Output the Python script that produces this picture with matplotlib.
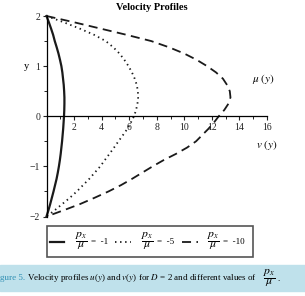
import matplotlib
matplotlib.use("Agg")
import matplotlib.pyplot as plt
from matplotlib.lines import Line2D
from matplotlib.patches import Rectangle
from matplotlib.ticker import MultipleLocator

plt.rcParams['font.family'] = ['Liberation Serif', 'DejaVu Serif']
plt.rcParams['mathtext.fontset'] = 'stix'

# data
y_pts = [2.0, 1.875, 1.75, 1.625, 1.5, 1.375, 1.25, 1.125, 1.0, 0.875, 0.75,
         0.625, 0.5, 0.375, 0.25, 0.125, 0.0, -0.125, -0.25, -0.375, -0.5,
         -0.625, -0.75, -0.875, -1.0, -1.125, -1.25, -1.375, -1.5, -1.625,
         -1.75, -1.875, -2.0]
x_m1 = [0.0, 0.17, 0.33, 0.48, 0.6, 0.74, 0.87, 0.98, 1.08, 1.15, 1.2,
        1.25, 1.28, 1.3, 1.3, 1.29, 1.27, 1.24, 1.21, 1.17, 1.13,
        1.08, 1.03, 0.97, 0.9, 0.82, 0.73, 0.62, 0.51, 0.39,
        0.27, 0.14, 0.0]
x_m5 = [0.0, 1.25, 2.4, 3.45, 4.3, 4.85, 5.3, 5.65, 5.95, 6.2, 6.4,
        6.55, 6.63, 6.65, 6.6, 6.5, 6.35, 6.12, 5.87, 5.55, 5.22,
        4.9, 4.57, 4.23, 3.9, 3.5, 3.1, 2.65, 2.2, 1.7,
        1.15, 0.6, 0.0]
x_m10 = [0.0, 2.0, 3.9, 5.8, 7.6, 8.9, 10.0, 10.9, 11.65, 12.3, 12.8,
         13.1, 13.3, 13.35, 13.2, 12.9, 12.5, 12.15, 11.75, 11.3, 10.85,
         10.2, 9.4, 8.5, 7.7, 6.95, 6.2, 5.4, 4.5, 3.5,
         2.45, 1.25, 0.0]
pressure = [-1, -5, -10]
x_ticks = [2, 4, 6, 8, 10, 12, 14, 16]
y_ticks = [-2, -1, 0, 1, 2]

W, H = 305, 296
fig = plt.figure(figsize=(W / 100, H / 100), dpi=100)

def fx(x):
    return x / W

def fy(y):
    return 1 - y / H

x0, x1 = 46.5, 267.0
ytop, ybot = 16.0, 216.5
ax = fig.add_axes([fx(x0), fy(ybot), fx(x1) - fx(x0), fy(ytop) - fy(ybot)])
ax.set_xlim(0, 16)
ax.set_ylim(-2, 2)
ax.patch.set_visible(False)
for s in ['top', 'right']:
    ax.spines[s].set_visible(False)
ax.spines['left'].set_position(('data', 0))
ax.spines['bottom'].set_position(('data', 0))
ax.spines['left'].set_linewidth(0.9)
ax.spines['bottom'].set_linewidth(0.9)
ax.set_xticks(x_ticks)
ax.set_yticks(y_ticks)
ax.xaxis.set_minor_locator(MultipleLocator(1))
ax.yaxis.set_minor_locator(MultipleLocator(0.5))
ax.tick_params(axis='both', which='major', direction='out', length=3, width=0.8,
               labelsize=7, pad=1.5, colors='#222222')
ax.tick_params(axis='both', which='minor', direction='out', length=2, width=0.6)

styles = [dict(ls='-', lw=1.6), dict(ls=(0, (0.8, 2.0)), lw=1.3),
          dict(ls=(0, (5, 3)), lw=1.3)]
for xs, st in zip([x_m1, x_m5, x_m10], styles):
    ax.plot(xs, y_pts, color='#1a1a1a', clip_on=False, solid_joinstyle='round', **st)

fig.text(fx(152), fy(7), 'Velocity Profiles', ha='center', va='center',
         fontsize=7.5, fontweight='bold')
fig.text(fx(26), fy(66), 'y', ha='center', va='center', fontsize=7.5)
fig.text(fx(263), fy(79), r'$\mu\ (y)$', ha='center', va='center', fontsize=8)
fig.text(fx(267), fy(145), r'$v\ (y)$', ha='center', va='center', fontsize=8)

# legend box
fig.patches.append(Rectangle((fx(47), fy(257)), fx(253) - fx(47), fy(226) - fy(257),
                             transform=fig.transFigure, fill=False,
                             edgecolor='#555555', lw=1.2))
ly = 241.5
seg = [(50, 64), (115, 131), (182, 198)]
fr = [81, 147, 213]
eq = [91, 157, 223]
for (a, b), st, f, e, p in zip(seg, styles, fr, eq, pressure):
    fig.lines.append(Line2D([fx(a), fx(b)], [fy(ly), fy(ly)], transform=fig.transFigure,
                            color='#1a1a1a', **st))
    fig.text(fx(f), fy(ly), r'$\dfrac{p_x}{\mu}$', ha='center', va='center', fontsize=8.5)
    fig.text(fx(e), fy(ly), '=  %d' % p, ha='left', va='center', fontsize=6.5)

# caption band
fig.patches.append(Rectangle((0, fy(291)), 1, fy(265) - fy(291),
                             transform=fig.transFigure, color='#bfe1eb', zorder=0))
fig.text(fx(0), fy(278), 'gure 5.', ha='left', va='center', fontsize=6.5,
         color='#2f8fb3')
fig.text(fx(27), fy(278),
         r'Velocity profiles $u$($y$) and $v$($y$) for $D$ = 2 and different values of',
         ha='left', va='center', fontsize=6.5)
fig.text(fx(269), fy(278.5), r'$\dfrac{p_x}{\mu}$', ha='center', va='center', fontsize=8.5)
fig.text(fx(279), fy(279), '.', ha='center', va='center', fontsize=6.5)

fig.savefig('out.png', dpi=100)
